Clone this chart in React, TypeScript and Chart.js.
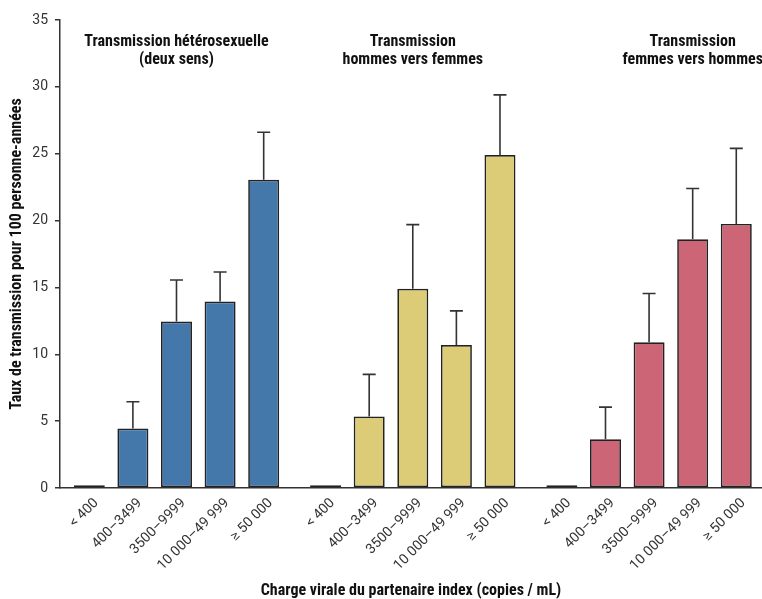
import React, { useEffect, useRef } from "react";
import { Chart, registerables } from "chart.js";

Chart.register(...registerables);

// ---- Data ----
const categories = ["< 400", "400–3499", "3500–9999", "10 000–49 999", "≥ 50 000"];
const groupTitles = [
  ["Transmission hétérosexuelle", "(deux sens)"],
  ["Transmission", "hommes vers femmes"],
  ["Transmission", "femmes vers hommes"],
];
// x position of the first bar of each group (in bar-spacing units)
const groupStart = [0, 5.42, 10.84];
// title anchor (bar index within group)
const titleAnchor = [2, 2, 3];

const heteroValues = [0.2, 4.45, 12.45, 13.95, 23.05];
const heteroUpper = [null, 6.45, 15.55, 16.15, 26.6];
const menToWomenValues = [0.2, 5.35, 14.9, 10.7, 24.9];
const menToWomenUpper = [null, 8.5, 19.7, 13.25, 29.4];
const womenToMenValues = [0.2, 3.65, 10.9, 18.6, 19.75];
const womenToMenUpper = [null, 6.05, 14.55, 22.4, 25.4];

const groupColors = ["#4477AA", "#DDCC77", "#CC6677"];

const yTicks = [0, 5, 10, 15, 20, 25, 30, 35];
const yTitle = "Taux de transmission pour 100 personne-années";
const xTitle = "Charge virale du partenaire index (copies / mL)";

const TITLE_FONT = "'Liberation Sans Narrow', 'Roboto Condensed', Roboto, sans-serif";
const TICK_FONT = "Roboto, 'Liberation Sans', sans-serif";
const INK = "#333333";

const groupValues = [heteroValues, menToWomenValues, womenToMenValues];
const groupUpper = [heteroUpper, menToWomenUpper, womenToMenUpper];

const tickPositions: number[] = [];
groupStart.forEach((s) => categories.forEach((_, i) => tickPositions.push(s + i)));

const errorBarsPlugin = {
  id: "errorBars",
  afterDatasetsDraw(chart: any) {
    const { ctx } = chart;
    const yScale = chart.scales.y;
    chart.data.datasets.forEach((ds: any, di: number) => {
      const meta = chart.getDatasetMeta(di);
      meta.data.forEach((bar: any, i: number) => {
        const up = ds.errorUpper[i];
        if (up == null) return;
        const yUp = yScale.getPixelForValue(up);
        ctx.save();
        ctx.strokeStyle = INK;
        ctx.lineWidth = 1.6;
        ctx.beginPath();
        ctx.moveTo(bar.x, bar.y);
        ctx.lineTo(bar.x, yUp);
        ctx.moveTo(bar.x - 6.5, yUp);
        ctx.lineTo(bar.x + 6.5, yUp);
        ctx.stroke();
        ctx.restore();
      });
    });
  },
};

const groupTitlePlugin = {
  id: "groupTitles",
  afterDraw(chart: any) {
    const { ctx, chartArea } = chart;
    const xScale = chart.scales.x;
    ctx.save();
    ctx.fillStyle = "#111";
    ctx.font = `bold 16px ${TITLE_FONT}`;
    ctx.textAlign = "center";
    ctx.textBaseline = "middle";
    groupTitles.forEach((lines, g) => {
      const x = xScale.getPixelForValue(groupStart[g] + titleAnchor[g]);
      lines.forEach((line, li) => {
        ctx.fillText(line, x, chartArea.top + 22 + li * 18);
      });
    });
    ctx.restore();
  },
};

export default function App() {
  const ref = useRef<HTMLCanvasElement | null>(null);

  useEffect(() => {
    if (!ref.current) return;
    const datasets = groupValues.map((vals, g) => ({
      label: groupTitles[g].join(" "),
      data: vals.map((v, i) => ({ x: groupStart[g] + i, y: v })),
      errorUpper: groupUpper[g],
      backgroundColor: groupColors[g],
      borderColor: "#222",
      borderWidth: 1.7,
      borderSkipped: false,
      barPercentage: 0.711,
      categoryPercentage: 1,
      grouped: false,
    }));

    const chart = new Chart(ref.current, {
      type: "bar",
      data: { datasets } as any,
      plugins: [errorBarsPlugin, groupTitlePlugin],
      options: {
        animation: false,
        responsive: false,
        layout: { padding: { top: 20, right: 0, bottom: 0, left: 0 } },
        plugins: { legend: { display: false }, tooltip: { enabled: false } },
        scales: {
          x: {
            type: "linear",
            offset: false,
            min: -0.672,
            max: 15.43,
            grid: { display: false, drawTicks: false },
            border: { display: true, color: INK, width: 1.5 },
            afterBuildTicks: (scale: any) => {
              scale.ticks = tickPositions.map((v) => ({ value: v }));
            },
            afterFit: (scale: any) => {
              scale.height = 111;
            },
            ticks: {
              autoSkip: false,
              minRotation: 45,
              maxRotation: 45,
              padding: 7,
              labelOffset: 7,
              color: INK,
              font: { family: TICK_FONT, size: 14 },
              callback: (_v: any, index: number) => categories[index % categories.length],
            },
            title: {
              display: true,
              text: xTitle,
              color: "#111",
              font: { family: TITLE_FONT, size: 16, weight: "bold" },
              padding: { top: 0, bottom: -2 },
            },
          },
          y: {
            min: 0,
            max: 35,
            afterBuildTicks: (scale: any) => {
              scale.ticks = yTicks.map((v) => ({ value: v }));
            },
            afterFit: (scale: any) => {
              scale.width = 60;
            },
            grid: {
              display: true,
              drawOnChartArea: false,
              drawTicks: true,
              tickLength: 5,
              color: INK,
              lineWidth: 1.5,
            },
            border: { display: true, color: INK, width: 1.5 },
            ticks: {
              padding: 7,
              color: INK,
              font: { family: TICK_FONT, size: 14 },
            },
            title: {
              display: true,
              text: yTitle,
              color: "#111",
              font: { family: TITLE_FONT, size: 16, weight: "bold" },
              padding: { top: 7, bottom: 0 },
            },
          },
        },
      } as any,
    });
    return () => chart.destroy();
  }, []);

  return (
    <div style={{ position: "fixed", left: 0, top: 0, width: 762, height: 599, background: "#fff" }}>
      <canvas ref={ref} width={762} height={599} />
    </div>
  );
}
